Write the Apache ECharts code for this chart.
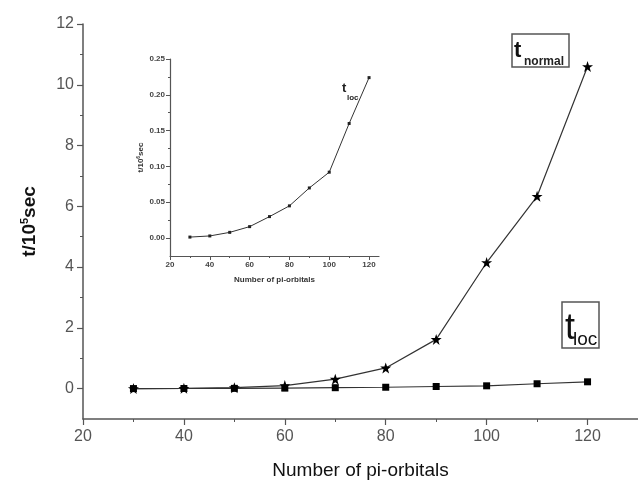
<!DOCTYPE html>
<html>
<head>
<meta charset="utf-8">
<script src="https://cdn.jsdelivr.net/npm/echarts@6/dist/echarts.min.js"></script>
<style>
  html, body { margin: 0; padding: 0; background: #fff; }
  #chart { width: 638px; height: 491px; }
</style>
</head>
<body>
<div id="chart"></div>
<script>
// number of pi-orbitals
const nPi = [30, 40, 50, 60, 70, 80, 90, 100, 110, 120]
// t_normal (stars), main chart
const tNormal = [0.0, 0.01, 0.03, 0.1, 0.31, 0.68, 1.62, 4.15, 6.33, 10.6]
// t_loc (squares), main chart and inset
const tLoc = [0.0014, 0.003, 0.008, 0.016, 0.03, 0.045, 0.07, 0.092, 0.16, 0.224]

const xTicks = [20, 40, 60, 80, 100, 120]
const xMinor = [30, 50, 70, 90, 110]
const yTicks = [0, 2, 4, 6, 8, 10, 12]
const yMinor = [1, 3, 5, 7, 9, 11]
const insetXTicks = [20, 40, 60, 80, 100, 120]
const insetXMinor = [30, 50, 70, 90, 110]
const insetYTicks = [0, 0.05, 0.1, 0.15, 0.2, 0.25]
const insetYMinor = [0.025, 0.075, 0.125, 0.175, 0.225]

const font = 'Liberation Sans, Arial, sans-serif'
const axisCol = '#555'
const lineCol = '#333'
const star = 'path://M12,0 L14.9,8.6 L24,8.6 L16.7,14 L19.4,22.8 L12,17.5 L4.6,22.8 L7.3,14 L0,8.6 L9.1,8.6 Z'

const zip = (xs, ys) => xs.map((x, i) => [x, ys[i]])

const myChart = echarts.init(document.getElementById('chart'))

// extra axis used only to draw the short minor ticks
const minorAxis = (grid, pos, min, max, vals, len) => ({
  type: 'value', gridIndex: grid, position: pos, min: min, max: max,
  axisLine: { show: false, onZero: false },
  axisTick: { show: true, customValues: vals, length: len, lineStyle: { color: axisCol, width: 1 } },
  axisLabel: { show: false },
  splitLine: { show: false }
})

const option = {
  animation: false,
  textStyle: { fontFamily: font },
  grid: [
    { left: 83, top: 24, right: 0, bottom: 72 },
    { left: 170, top: 59, right: 259, bottom: 235 }
  ],
  xAxis: [
    {
      type: 'value', gridIndex: 0, position: 'bottom', min: 20, max: 130,
      name: 'Number of pi-orbitals', nameLocation: 'middle', nameGap: 42,
      nameTextStyle: { fontSize: 19, color: '#111', fontFamily: font },
      axisLine: { onZero: false, lineStyle: { color: axisCol, width: 1.5 } },
      axisTick: { customValues: xTicks, length: 6, lineStyle: { color: axisCol, width: 1.2 } },
      axisLabel: { customValues: xTicks, fontSize: 16, color: '#555', margin: 10 },
      splitLine: { show: false }
    },
    minorAxis(0, 'bottom', 20, 130, xMinor, 3),
    {
      type: 'value', gridIndex: 1, position: 'bottom', min: 20, max: 125,
      name: 'Number of pi-orbitals', nameLocation: 'middle', nameGap: 20,
      nameTextStyle: { fontSize: 8, fontWeight: 'bold', color: '#333' },
      axisLine: { onZero: false, lineStyle: { color: axisCol, width: 1.2 } },
      axisTick: { customValues: insetXTicks, length: 4, lineStyle: { color: axisCol } },
      axisLabel: { customValues: insetXTicks, fontSize: 8, fontWeight: 'bold', color: '#444', margin: 5 },
      splitLine: { show: false }
    },
    minorAxis(1, 'bottom', 20, 125, insetXMinor, 2)
  ],
  yAxis: [
    {
      type: 'value', gridIndex: 0, position: 'left', min: -1, max: 12,
      name: 't/10{sup|5}sec', nameLocation: 'middle', nameGap: 43, nameRotate: 90,
      nameTextStyle: {
        fontSize: 19, fontWeight: 'bold', color: '#111',
        rich: { sup: { fontSize: 11, fontWeight: 'bold', color: '#111', verticalAlign: 'top', padding: [0, 0, 10, 0] } }
      },
      axisLine: { show: true, onZero: false, lineStyle: { color: axisCol, width: 1.5 } },
      axisTick: { show: true, customValues: yTicks, length: 6, lineStyle: { color: axisCol, width: 1.2 } },
      axisLabel: { customValues: yTicks, fontSize: 16, color: '#555', margin: 9 },
      splitLine: { show: false }
    },
    minorAxis(0, 'left', -1, 12, yMinor, 3),
    {
      type: 'value', gridIndex: 1, position: 'left', min: -0.025, max: 0.25,
      name: 't/10{sup|6}sec', nameLocation: 'middle', nameGap: 25, nameRotate: 90,
      nameTextStyle: {
        fontSize: 8, fontWeight: 'bold', color: '#333',
        rich: { sup: { fontSize: 5, fontWeight: 'bold', color: '#333', padding: [0, 0, 4, 0] } }
      },
      axisLine: { show: true, onZero: false, lineStyle: { color: axisCol, width: 1.2 } },
      axisTick: { show: true, customValues: insetYTicks, length: 4, lineStyle: { color: axisCol } },
      axisLabel: { customValues: insetYTicks, fontSize: 8, fontWeight: 'bold', color: '#444', margin: 5,
        formatter: v => v.toFixed(2) },
      splitLine: { show: false }
    },
    minorAxis(1, 'left', -0.025, 0.25, insetYMinor, 2)
  ],
  series: [
    {
      type: 'line', xAxisIndex: 0, yAxisIndex: 0,
      data: zip(nPi, tNormal),
      symbol: star, symbolSize: 11,
      itemStyle: { color: '#000' },
      lineStyle: { color: lineCol, width: 1.2 }
    },
    {
      type: 'line', xAxisIndex: 0, yAxisIndex: 0,
      data: zip(nPi, tLoc),
      symbol: 'rect', symbolSize: 7,
      itemStyle: { color: '#000' },
      lineStyle: { color: lineCol, width: 1.2 }
    },
    {
      type: 'line', xAxisIndex: 2, yAxisIndex: 2,
      data: zip(nPi, tLoc),
      symbol: 'rect', symbolSize: 3,
      itemStyle: { color: '#222' },
      lineStyle: { color: lineCol, width: 1 }
    }
  ],
  graphic: [
    { type: 'rect', shape: { x: 512, y: 34, width: 57, height: 33 }, style: { fill: 'none', stroke: axisCol, lineWidth: 1.5 } },
    { type: 'text', style: { text: 't', x: 514, y: 62, font: 'bold 22px ' + font, fill: '#111', verticalAlign: 'bottom' } },
    { type: 'text', style: { text: 'normal', x: 524, y: 68, font: 'bold 12px ' + font, fill: '#222', verticalAlign: 'bottom' } },
    { type: 'rect', shape: { x: 562, y: 302, width: 37, height: 46 }, style: { fill: 'none', stroke: axisCol, lineWidth: 1.5 } },
    { type: 'text', style: { text: 't', x: 565, y: 347, font: '36px ' + font, fill: '#111', verticalAlign: 'bottom' } },
    { type: 'text', style: { text: 'loc', x: 573, y: 349, font: '19px ' + font, fill: '#111', verticalAlign: 'bottom' } },
    { type: 'text', style: { text: 't', x: 342, y: 95, font: 'bold 13px ' + font, fill: '#222', verticalAlign: 'bottom' } },
    { type: 'text', style: { text: 'loc', x: 347, y: 102, font: 'bold 8px ' + font, fill: '#222', verticalAlign: 'bottom' } }
  ]
}

myChart.setOption(option)
</script>
</body>
</html>
